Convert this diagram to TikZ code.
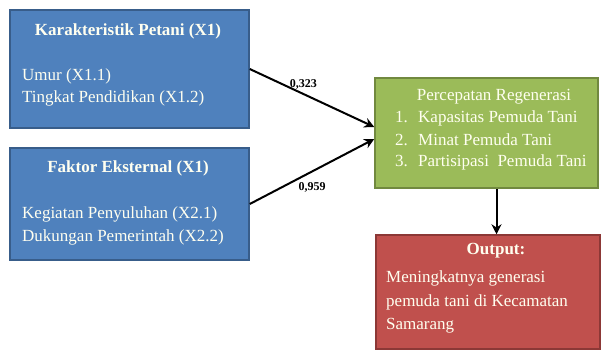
\documentclass[tikz,border=0pt]{standalone}
\usepackage{fontspec}
\setmainfont{Liberation Serif}
\usepackage{xcolor}
\usepackage{tikz}
\usetikzlibrary{calc}
\usetikzlibrary {arrows.meta}
\definecolor{B0}{HTML}{4F81BD}
\definecolor{B1}{HTML}{385D8A}
\definecolor{G0}{HTML}{9BBB59}
\definecolor{G1}{HTML}{71893F}
\definecolor{R0}{HTML}{C0504D}
\definecolor{R1}{HTML}{8C3836}
\definecolor{T0}{HTML}{FFFFF0}

\begin{document}
\begin{tikzpicture}[x=1pt,y=-1pt]
\tikzstyle{bx}=[draw,shape=rectangle,line width=1.5pt,inner sep=0pt]
\tikzstyle{ttl}=[text=T0,font=\fontsize{17}{20}\selectfont\bfseries,inner sep=0pt]
\tikzstyle{itm}=[text=T0,font=\fontsize{17}{20}\selectfont,inner sep=0pt,anchor=west]
\tikzstyle{arr}=[-{Stealth[length=10pt,width=10pt]},line width=2pt,black]
\tikzstyle{val}=[font=\fontsize{12}{14}\selectfont\bfseries,inner sep=0pt]
\useasboundingbox (0,0) rectangle (608,351);

\node[bx,draw=B1,fill=B0,minimum width=239pt,minimum height=118pt](karakteristik) at (129.5,69){};
\node[bx,draw=B1,fill=B0,minimum width=239pt,minimum height=112pt](faktor) at (129.5,204){};
\node[bx,draw=G1,fill=G0,minimum width=223pt,minimum height=110pt](percepatan) at (486.5,133){};
\node[bx,draw=R1,fill=R0,minimum width=224pt,minimum height=114pt](output) at (488,292){};
%
\node[ttl](karakteristikT) at (128,31){Karakteristik Petani (X1)};
\node[itm](umur) at (22,76){Umur (X1.1)};
\node[itm](pendidikan) at (22,98){Tingkat Pendidikan (X1.2)};
%
\node[ttl](faktorT) at (128,168){Faktor Eksternal (X1)};
\node[itm](penyuluhan) at (22,214){Kegiatan Penyuluhan (X2.1)};
\node[itm](pemerintah) at (22,237){Dukungan Pemerintah (X2.2)};
%
\node[ttl,font=\fontsize{17}{20}\selectfont](percepatanT) at (494,97){Percepatan Regenerasi};
\node[itm](kapasitas) at (395,118){\makebox[23pt][l]{1.}Kapasitas Pemuda Tani};
\node[itm](minat) at (395,140){\makebox[23pt][l]{2.}Minat Pemuda Tani};
\node[itm](partisipasi) at (395,162){\makebox[23pt][l]{3.}Partisipasi\ \ Pemuda Tani};
%
\node[ttl](outputT) at (496,251){Output:};
\node[itm](l1) at (386,278){Meningkatnya generasi};
\node[itm](l2) at (386,302){pemuda tani di Kecamatan};
\node[itm](l3) at (386,326){Samarang};
%
\draw[arr] (karakteristik.east) -- ([yshift=6pt]percepatan.west) node[val,pos=0.43,above=4pt]{0,323};
\draw[arr] (faktor.east) -- ([yshift=-6pt]percepatan.west) node[val,pos=0.5,below=10pt]{0,959};
\draw[arr] ([xshift=10pt]percepatan.south) -- ([xshift=10pt]percepatan.south |- output.north);
\end{tikzpicture}
\end{document}
